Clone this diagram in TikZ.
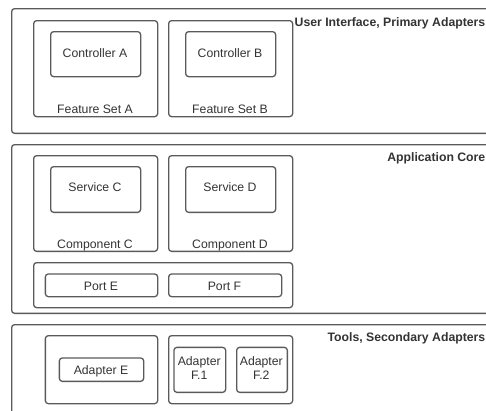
\documentclass[tikz,border=0pt]{standalone}
\usepackage{fontspec}
\setmainfont{Liberation Sans}
\definecolor{ln}{HTML}{5A5A5A}
\definecolor{tx}{HTML}{333333}
\begin{document}
\begin{tikzpicture}[x=1pt,y=-1pt,
  box/.style={draw=ln, line width=1.3pt, rounded corners=3pt, inner sep=0pt, anchor=north west},
  lbl/.style={text=tx, font=\fontsize{12.25}{14.5}\selectfont, inner sep=0pt, anchor=base},
  ttl/.style={text=tx, font=\bfseries\fontsize{12.25}{14.5}\selectfont, inner sep=0pt, anchor=base east}]
\useasboundingbox (0,0) rectangle (486,410);
\clip (0,0) rectangle (486,410);
% Layer 1
\node[box, minimum width=490pt, minimum height=124.7pt] (ui) at (11,8) {};
\node[ttl] (uiT) at (485.5,26.5) {User Interface, Primary Adapters};
\node[box, minimum width=124pt, minimum height=96pt] (fsA) at (33,20) {};
\node[box, minimum width=90pt, minimum height=45pt] (ctrlA) at (50,31) {};
\node[lbl] (ctrlAT) at (95,57.3) {Controller A};
\node[lbl] (fsAT) at (95,113.3) {Feature Set A};
\node[box, minimum width=124pt, minimum height=96pt] (fsB) at (168,20) {};
\node[box, minimum width=90pt, minimum height=45pt] (ctrlB) at (185,31) {};
\node[lbl] (ctrlBT) at (230,57.3) {Controller B};
\node[lbl] (fsBT) at (230,113.3) {Feature Set B};
% Layer 2
\node[box, minimum width=490pt, minimum height=168.7pt] (core) at (11,144) {};
\node[ttl] (coreT) at (485.5,161.5) {Application Core};
\node[box, minimum width=124pt, minimum height=95.7pt] (compC) at (33,155) {};
\node[box, minimum width=90pt, minimum height=45.7pt] (svcC) at (50,166) {};
\node[lbl] (svcCT) at (95,191.5) {Service C};
\node[lbl] (compCT) at (95,248) {Component C};
\node[box, minimum width=124pt, minimum height=95.7pt] (compD) at (168,155) {};
\node[box, minimum width=90pt, minimum height=45.7pt] (svcD) at (185,166) {};
\node[lbl] (svcDT) at (230,191.5) {Service D};
\node[lbl] (compDT) at (230,248) {Component D};
\node[box, minimum width=259pt, minimum height=45pt] (ports) at (33,262) {};
\node[box, minimum width=112.3pt, minimum height=22.7pt] (portE) at (44.7,273.3) {};
\node[lbl] (portET) at (101,290.8) {Port E};
\node[box, minimum width=113pt, minimum height=22.7pt] (portF) at (168,273.3) {};
\node[lbl] (portFT) at (224.5,290.8) {Port F};
% Layer 3
\node[box, minimum width=490pt, minimum height=100pt] (tools) at (11,324) {};
\node[ttl] (toolsT) at (485.5,341) {Tools, Secondary Adapters};
\node[box, minimum width=112.3pt, minimum height=68pt] (boxE) at (44.7,335) {};
\node[box, minimum width=84.3pt, minimum height=23.4pt] (adE) at (58.7,357.3) {};
\node[lbl] (adET) at (101,374.5) {Adapter E};
\node[box, minimum width=124pt, minimum height=68pt] (boxF) at (168,335) {};
\node[box, minimum width=51.7pt, minimum height=45pt] (adF1) at (173.3,346.7) {};
\node[lbl] (adF1a) at (199.2,365) {Adapter};
\node[lbl] (adF1b) at (199.2,379) {F.1};
\node[box, minimum width=50.7pt, minimum height=45pt] (adF2) at (236,346.7) {};
\node[lbl] (adF2a) at (261.3,365) {Adapter};
\node[lbl] (adF2b) at (261.3,379) {F.2};
\end{tikzpicture}
\end{document}
